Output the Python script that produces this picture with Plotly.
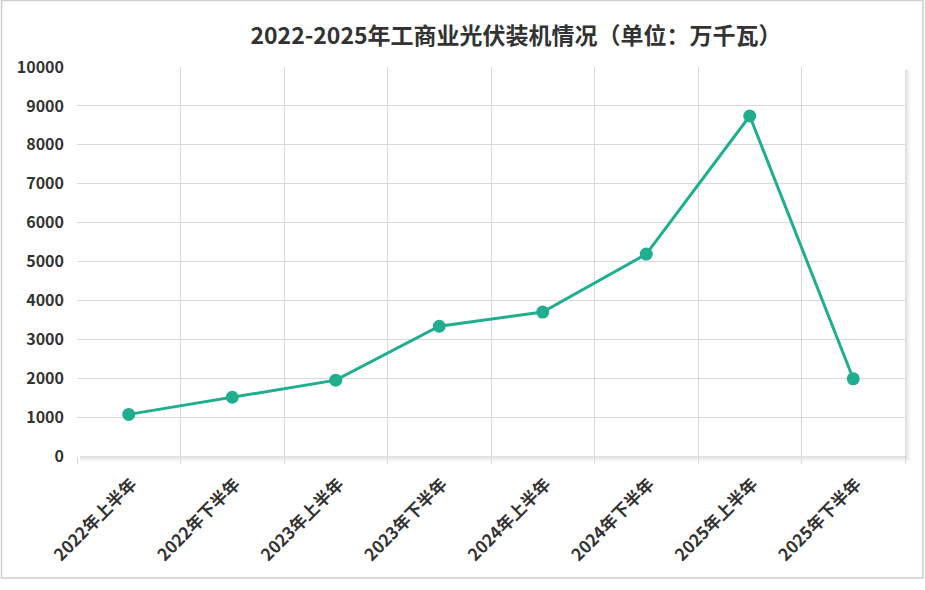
import plotly.graph_objects as go

categories = ["2022年上半年", "2022年下半年", "2023年上半年", "2023年下半年",
              "2024年上半年", "2024年下半年", "2025年上半年", "2025年下半年"]
values = [1070, 1510, 1950, 3335, 3700, 5190, 8740, 1985]
y_ticks = [0, 1000, 2000, 3000, 4000, 5000, 6000, 7000, 8000, 9000, 10000]
title_text = "2022-2025年工商业光伏装机情况（单位：万千瓦）"

W, H = 925, 590
L, R, T, B = 77, 20, 67, 134
pw, ph = W - L - R, H - T - B

def px(x):
    return (x - L) / pw

def py(y):
    return (H - B - y) / ph

FONT = "Noto Sans CJK SC"
LINE = "#21ae8f"

fig = go.Figure()
fig.add_trace(go.Scatter(
    x=categories, y=values, mode="lines+markers",
    line=dict(color=LINE, width=3),
    marker=dict(color=LINE, size=13),
    hoverinfo="x+y", showlegend=False,
))

shapes = []
# outer frame
shapes.append(dict(type="rect", xref="paper", yref="paper",
                   x0=px(1.5), x1=px(923), y0=py(578), y1=py(0.5),
                   line=dict(color="#d0d0d0", width=1.5), fillcolor="rgba(0,0,0,0)",
                   layer="below"))
# plot-area shadow (right and bottom)
for i, op in enumerate([0.12, 0.10, 0.08, 0.05, 0.03, 0.015]):
    shapes.append(dict(type="rect", xref="paper", yref="paper",
                       x0=px(905 + i), x1=px(906 + i), y0=py(457 + i), y1=py(70),
                       line=dict(width=0), fillcolor=f"rgba(0,0,0,{op})", layer="below"))
    shapes.append(dict(type="rect", xref="paper", yref="paper",
                       x0=px(80), x1=px(906 + i), y0=py(457 + i), y1=py(456 + i),
                       line=dict(width=0), fillcolor=f"rgba(0,0,0,{op})", layer="below"))

fig.update_layout(
    width=W, height=H,
    margin=dict(l=L, r=R, t=T, b=B),
    paper_bgcolor="white", plot_bgcolor="white",
    title=dict(text=f"<b>{title_text}</b>", xref="container", x=516 / W, xanchor="center",
               yref="container", y=1 - 36 / H, yanchor="middle",
               font=dict(family=FONT, size=23, color="#333333")),
    font=dict(family=FONT, color="#333333"),
    shapes=shapes,
    xaxis=dict(
        type="category", range=[-0.5, 7.5], tickson="boundaries",
        showgrid=True, gridcolor="#d9d9d9", gridwidth=1,
        ticks="outside", ticklen=7, tickcolor="#d9d9d9",
        tickangle=-45, showline=False, zeroline=False,
        ticklabelshift=3, ticklabelstandoff=14,
        tickfont=dict(family=FONT, size=17, color="#333333", weight="bold"),
    ),
    yaxis=dict(
        range=[0, 10000], tickvals=y_ticks, ticktext=[str(v) for v in y_ticks],
        showgrid=True, gridcolor="#d9d9d9", gridwidth=1,
        zeroline=False, showline=False, ticks="",
        ticklabelstandoff=12,
        tickfont=dict(family=FONT, size=16, color="#333333", weight="bold"),
    ),
)

fig.write_html("out.html", config={"displayModeBar": False},
               post_script="document.body.style.margin='0';document.body.style.overflow='hidden';")
